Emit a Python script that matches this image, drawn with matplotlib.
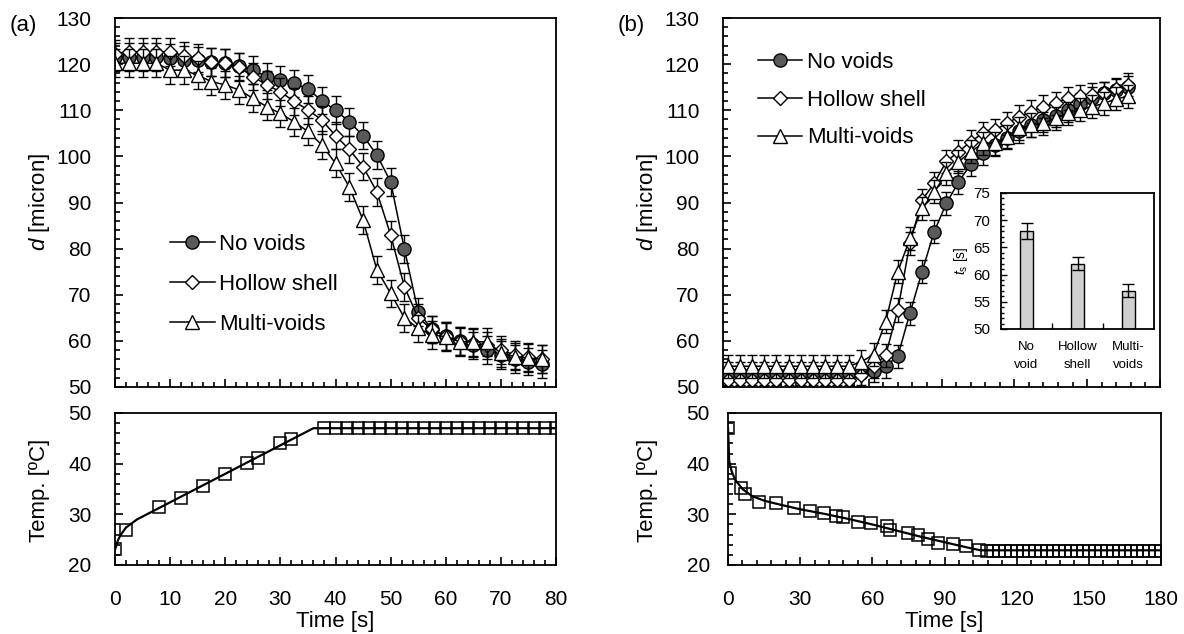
import matplotlib.pyplot as plt
from matplotlib.ticker import MultipleLocator, FixedLocator

plt.rcParams['font.family'] = ['Liberation Sans', 'DejaVu Sans']
plt.rcParams['mathtext.fontset'] = 'custom'
plt.rcParams['mathtext.it'] = 'Liberation Sans:italic'
plt.rcParams['mathtext.rm'] = 'Liberation Sans'
plt.rcParams['axes.linewidth'] = 1.3

# ---- (a) heating: diameter vs time ----
time_a = [0, 2.5, 5, 7.5, 10, 12.5, 15, 17.5, 20, 22.5, 25, 27.5, 30, 32.5, 35, 37.5,
          40, 42.5, 45, 47.5, 50, 52.5, 55, 57.5, 60, 62.5, 65, 67.5, 70, 72.5, 75, 77.5]
no_voids_a = [121.5, 121.5, 121.5, 121.5, 121.3, 121.0, 120.8, 120.5, 120.2, 119.5, 118.7,
              117.3, 116.6, 115.8, 114.6, 112.1, 110.0, 107.5, 104.5, 100.3, 94.5, 79.9,
              66.3, 62.5, 61.0, 60.0, 59.0, 58.0, 57.0, 56.0, 55.5, 55.0]
hollow_a = [122.3, 122.7, 122.7, 122.7, 122.7, 121.8, 121.3, 120.5, 120.2, 119.4, 117.3,
            115.5, 114.0, 111.9, 110.1, 107.9, 104.5, 101.5, 97.8, 92.3, 83.0, 71.7,
            65.0, 62.5, 61.0, 60.0, 59.5, 59.0, 58.0, 57.0, 56.5, 56.0]
multi_a = [120.2, 120.2, 120.2, 120.2, 118.7, 118.7, 117.6, 116.2, 115.5, 114.4, 112.6,
           110.8, 109.3, 107.5, 105.4, 102.5, 98.5, 93.4, 86.2, 75.4, 70.3, 65.0,
           62.7, 61.3, 60.9, 59.8, 59.8, 59.8, 57.3, 56.6, 56.3, 56.0]
err_a = 3.0

# (a) temperature
temp_time_a = [0, 2, 8, 12, 16, 20, 24, 26, 30, 32, 38, 40, 42, 44, 46, 48, 50, 52, 54,
               56, 58, 60, 62, 64, 66, 68, 70, 72, 74, 76, 78, 80]
temp_a = [23.1, 26.9, 31.5, 33.2, 35.6, 38.0, 40.1, 41.1, 44.0, 44.9, 47.0, 47.0, 47.0,
          47.0, 47.0, 47.0, 47.0, 47.0, 47.0, 47.0, 47.0, 47.0, 47.0, 47.0, 47.0, 47.0,
          47.0, 47.0, 47.0, 47.0, 47.0, 47.0]
fit_time_a = [0, 0.5, 1, 2, 4, 36, 80]
fit_a = [23.0, 24.8, 25.9, 27.4, 29.0, 47.0, 47.0]

# ---- (b) cooling: diameter vs time ----
time_b = [2, 7, 12, 17, 22, 27, 32, 37, 42, 47, 52, 57, 62, 67, 72, 77, 82, 87, 92, 97,
          102, 107, 112, 117, 122, 127, 132, 137, 142, 147, 152, 157, 162, 167]
no_voids_b = [53.0, 53.0, 53.0, 53.0, 53.0, 53.0, 53.0, 53.0, 53.0, 53.0, 53.0, 53.0,
              53.5, 54.5, 56.7, 66.0, 75.0, 83.7, 89.8, 94.4, 98.3, 100.7, 102.5, 104.0,
              105.5, 106.8, 107.8, 108.8, 110.0, 111.3, 112.6, 113.7, 114.3, 115.0]
hollow_b = [51.5, 51.5, 51.5, 51.5, 51.5, 51.5, 51.5, 51.5, 51.5, 51.5, 51.5, 52.5,
            54.5, 56.9, 66.7, 81.2, 90.5, 94.2, 98.9, 101.0, 103.2, 105.0, 105.7, 107.2,
            108.6, 109.7, 110.8, 111.5, 112.6, 113.0, 113.3, 113.7, 114.5, 115.5]
multi_b = [54.5, 54.5, 54.5, 54.5, 54.5, 54.5, 54.5, 54.5, 54.5, 54.5, 54.5, 55.5,
           57.0, 64.2, 75.0, 82.2, 88.7, 92.3, 96.3, 98.8, 101.0, 102.8, 102.8, 104.3,
           106.1, 106.8, 107.2, 108.3, 109.3, 110.1, 110.8, 111.5, 112.5, 113.0]
err_b = 2.5

# (b) temperature
temp_time_b = [0, 1, 5.5, 7, 13, 20, 27.5, 34, 40, 45, 48, 54, 59.5, 66, 67.5, 75, 79, 83,
               87.5, 93.5, 99, 104.5, 107.5, 110, 112.5, 115, 117.5, 120, 122.5, 125,
               127.5, 130, 132.5, 135, 137.5, 140, 142.5, 145, 147.5, 150, 152.5, 155,
               157.5, 160, 162.5, 165, 167.5, 170, 172.5, 175, 177.5, 180]
temp_b = [47.0, 38.1, 35.1, 34.1, 32.5, 32.2, 31.2, 30.7, 30.2, 29.7, 29.4, 28.5, 28.2,
          27.6, 27.0, 26.4, 25.9, 25.1, 24.3, 24.1, 23.8, 23.0, 22.8, 22.8, 22.8, 22.8,
          22.8, 22.8, 22.8, 22.8, 22.8, 22.8, 22.8, 22.8, 22.8, 22.8, 22.8, 22.8, 22.8,
          22.8, 22.8, 22.8, 22.8, 22.8, 22.8, 22.8, 22.8, 22.8, 22.8, 22.8, 22.8, 22.8]
fit_time_b = [0, 0.5, 1.5, 3, 6, 10, 15, 20, 30, 40, 50, 60, 70, 80, 90, 100, 105, 180]
fit_b = [47.0, 40.5, 38.5, 36.8, 35.0, 33.6, 32.7, 32.1, 31.0, 30.1, 29.1, 28.0, 26.8,
         25.6, 24.5, 23.4, 22.9, 22.9]

# inset: solidification time
inset_labels = ['No\nvoid', 'Hollow\nshell', 'Multi-\nvoids']
inset_ts = [68, 62, 57]
inset_err = [1.5, 1.2, 1.2]

series_labels = ['No voids', 'Hollow shell', 'Multi-voids']
markers = ['o', 'D', '^']
msizes = [9.5, 6.9, 10.5]
faces = ['#5a5a5a', 'white', 'white']

fig = plt.figure(figsize=(11.84, 6.34), dpi=100)
W, H = 1184, 634


def box(l, t, r, b):
    return [l / W, 1 - b / H, (r - l) / W, (b - t) / H]


def style(ax, xmaj, xmin, ymaj, ymin, xlabels):
    ax.xaxis.set_major_locator(MultipleLocator(xmaj))
    ax.xaxis.set_minor_locator(MultipleLocator(xmin))
    ax.yaxis.set_major_locator(MultipleLocator(ymaj))
    ax.yaxis.set_minor_locator(MultipleLocator(ymin))
    ax.tick_params(which='both', direction='in', top=False, right=False,
                   labelsize=15, width=1.2)
    ax.tick_params(which='major', length=6)
    ax.tick_params(which='minor', length=3.5)
    ax.tick_params(axis='y', which='major', pad=17)
    ax.tick_params(axis='x', which='major', pad=18, labelbottom=xlabels)


def draw_d(ax, t, series, err):
    for v, m, ms, fc, lab in zip(series, markers, msizes, faces, series_labels):
        ax.errorbar(t, v, yerr=err, fmt='none', ecolor='k', elinewidth=1.0,
                    capsize=3.6, capthick=1.0)
        ax.plot(t, v, color='k', lw=1.1, marker=m, ms=ms, mfc=fc, mec='k',
                mew=1.0, label=lab)


# panel (a)
ax1 = fig.add_axes(box(115, 18, 556, 387))
draw_d(ax1, time_a, [no_voids_a, hollow_a, multi_a], err_a)
ax1.set_xlim(0, 80)
ax1.set_ylim(50, 130)
style(ax1, 10, 2, 10, 2, False)
ax1.legend(loc='upper left', bbox_to_anchor=(0.125, 0.415), frameon=False,
           fontsize=16, handlelength=2.0, handletextpad=0.2, labelspacing=0.85,
           borderpad=0, borderaxespad=0)

ax2 = fig.add_axes(box(115, 413, 556, 565))
ax2.plot(fit_time_a, fit_a, color='k', lw=1.6)
ax2.plot(temp_time_a, temp_a, ls='none', marker='s', ms=9, mfc='none', mec='k', mew=1.1)
ax2.set_xlim(0, 80)
ax2.set_ylim(20, 50)
style(ax2, 10, 2, 10, 2, True)

# panel (b)
ax3 = fig.add_axes(box(723, 18, 1160, 387))
draw_d(ax3, time_b, [no_voids_b, hollow_b, multi_b], err_b)
ax3.set_xlim(0, 180)
ax3.set_ylim(50, 130)
style(ax3, 30, 6, 10, 2, False)
ax3.legend(loc='upper left', bbox_to_anchor=(0.08, 0.908), frameon=False,
           fontsize=16, handlelength=2.0, handletextpad=0.2, labelspacing=0.75,
           borderpad=0, borderaxespad=0)

ax4 = fig.add_axes(box(728, 413, 1161, 565))
ax4.plot(fit_time_b, fit_b, color='k', lw=1.6)
ax4.plot(temp_time_b, temp_b, ls='none', marker='s', ms=9, mfc='none', mec='k', mew=1.1)
ax4.set_xlim(0, 180)
ax4.set_ylim(20, 50)
style(ax4, 30, 6, 10, 2, True)
ax4.tick_params(axis='y', which='major', pad=13)

# inset
ax5 = fig.add_axes(box(1001, 193, 1154, 329))
xs = range(len(inset_ts))
ax5.bar(xs, inset_ts, width=0.27, color='#d0d0d0', edgecolor='k', lw=1.0,
        yerr=inset_err, capsize=4, error_kw=dict(elinewidth=1.0, capthick=1.0))
ax5.set_xlim(-0.5, 2.5)
ax5.set_ylim(50, 75)
ax5.yaxis.set_major_locator(MultipleLocator(5))
ax5.yaxis.set_minor_locator(MultipleLocator(1))
ax5.xaxis.set_major_locator(FixedLocator(list(xs)))
ax5.xaxis.set_minor_locator(FixedLocator([0.5, 1.5]))
ax5.set_xticklabels(inset_labels, fontsize=9.5, linespacing=1.6)
ax5.tick_params(which='both', direction='in', top=False, right=False, width=1.0)
ax5.tick_params(axis='y', which='major', length=4, labelsize=11, pad=8)
ax5.tick_params(axis='y', which='minor', length=2)
ax5.tick_params(axis='x', which='major', length=0, pad=9)
ax5.tick_params(axis='x', which='minor', length=4)
ax5.set_ylabel('$t$$_{\\rm s}$ [s]', fontsize=10, labelpad=2)

# labels
fig.text(10 / W, 1 - 26 / H, '(a)', fontsize=16, ha='left', va='center')
fig.text(618 / W, 1 - 26 / H, '(b)', fontsize=16, ha='left', va='center')
for x in (40, 648):
    fig.text(x / W, 1 - 202 / H, '$d$ [micron]', fontsize=16, rotation=90,
             ha='center', va='center')
    fig.text(x / W, 1 - 490 / H, 'Temp. [ºC]', fontsize=16, rotation=90,
             ha='center', va='center')
fig.text(335 / W, 1 - 621 / H, 'Time [s]', fontsize=16, ha='center', va='center')
fig.text(944 / W, 1 - 621 / H, 'Time [s]', fontsize=16, ha='center', va='center')

fig.savefig('out.png', dpi=100)
